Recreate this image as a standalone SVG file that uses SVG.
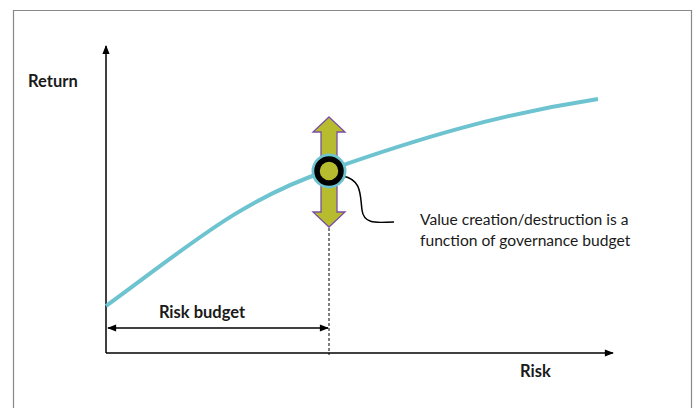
<svg xmlns="http://www.w3.org/2000/svg" width="699" height="408" viewBox="0 0 699 408">
<defs>
<style>
.lbl{font-family:Lato,"Liberation Sans",sans-serif;font-size:16.5px;font-weight:bold;fill:#1a1a1a}
.txt{font-family:Lato,"Liberation Sans",sans-serif;font-size:15.6px;fill:#1a1a1a}
.ax{stroke:#000;stroke-width:1.5;fill:none}
</style>
<marker id="ah" viewBox="0 0 10 10" refX="9" refY="5" markerWidth="10" markerHeight="9" orient="auto-start-reverse" markerUnits="userSpaceOnUse">
<path d="M0,1 L10,5 L0,9 z" fill="#000"/>
</marker>
</defs>
<rect width="699" height="408" fill="#fff"/>
<path d="M13.5,420 V10.5 H691.5 V420" fill="none" stroke="#888" stroke-width="1.2"/>
<g id="axes">
<line class="ax" x1="106" y1="353" x2="106" y2="46" marker-end="url(#ah)"/>
<line class="ax" x1="106" y1="353" x2="613" y2="353" marker-end="url(#ah)"/>
</g>
<g id="curve">
<path d="M106,306 C190,245 240,200 329,170 C420,138 500,114 598,99" fill="none" stroke="#6EC3D0" stroke-width="4"/>
</g>
<g id="connectors">
<line x1="329" y1="228" x2="329" y2="355" stroke="#000" stroke-width="1" stroke-dasharray="3,2"/>
<line x1="108" y1="328" x2="328" y2="328" stroke="#000" stroke-width="1.5" marker-start="url(#ah)" marker-end="url(#ah)"/>
<path d="M343,176 C362,180 360,195 362,210 C364,226 380,222 394,222" fill="none" stroke="#000" stroke-width="1.5"/>
</g>
<g id="updown">
<path d="M329,117 L345,132 L337,132 L337,212 L345,212 L329,227 L313,212 L321,212 L321,132 L313,132 z" fill="#B7BC2F" stroke="#7B4FA0" stroke-width="1.3" stroke-linejoin="miter"/>
</g>
<g id="point">
<circle cx="329" cy="171" r="13" fill="none" stroke="#6EC3D0" stroke-width="9"/>
<circle cx="329" cy="171" r="12" fill="#B7BC2F" stroke="#000" stroke-width="5.5"/>
</g>
<g id="labels">
<text class="lbl" x="28" y="87">Return</text>
<text class="lbl" x="520" y="377">Risk</text>
<text class="lbl" x="202" y="318" text-anchor="middle">Risk budget</text>
<text class="txt" x="420" y="225">Value creation/destruction is a</text>
<text class="txt" x="420" y="246">function of governance budget</text>
</g>
</svg>
